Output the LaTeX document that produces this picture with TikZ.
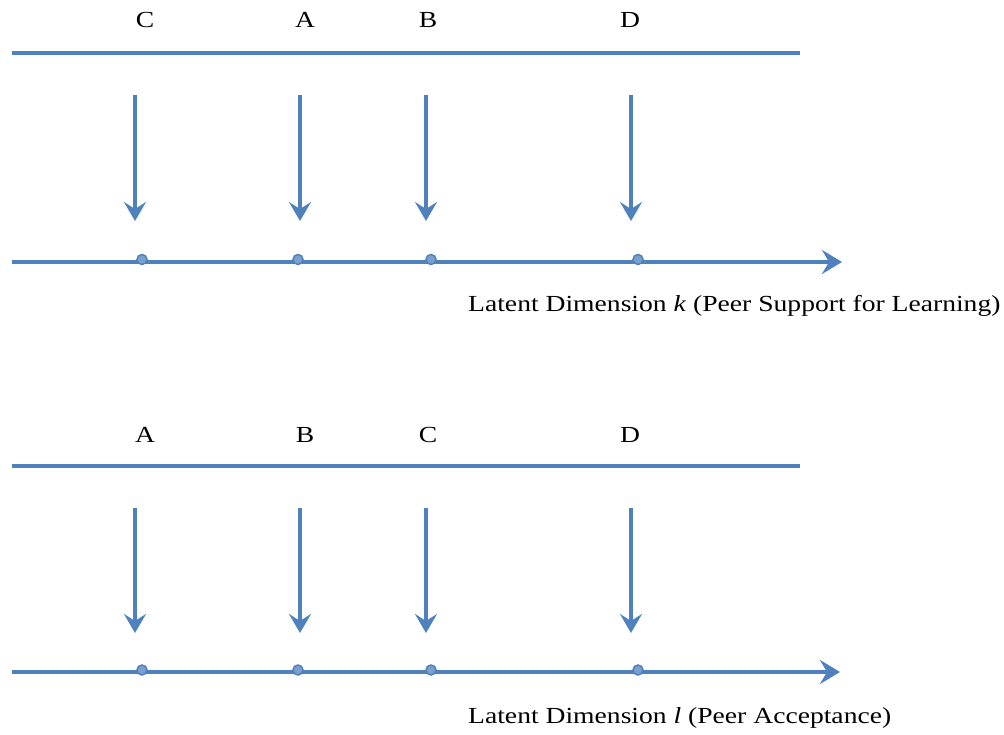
\documentclass[tikz,border=0pt]{standalone}
\usepackage{fontspec}
\setmainfont{Liberation Serif}
\usetikzlibrary{arrows.meta}
\definecolor{lineblue}{HTML}{4F81BD}
\newcommand{\wide}[1]{\scalebox{1.2}[1]{#1}}
\tikzset{
  bar/.style={draw=lineblue, line width=4.5pt},
  downarrow/.style={draw=lineblue, line width=4.7pt, -{Stealth[length=19pt,width=22pt,inset=7pt]}},
  axisline/.style={draw=lineblue, line width=4.5pt, -{Stealth[length=20pt,width=24pt,inset=7pt]}},
  dot/.style={circle, fill=lineblue!75, draw=lineblue, line width=1.5pt, inner sep=0pt, minimum size=10pt},
  lab/.style={font=\fontsize{23}{28}\selectfont, inner sep=0pt},
  axlab/.style={font=\fontsize{23}{28}\selectfont, inner sep=0pt, anchor=west}
}
\begin{document}
\begin{tikzpicture}[x=1pt,y=-1pt]
\useasboundingbox (0,0) rectangle (1004,735);
% ---------- top panel ----------
\node[lab] (t1) at (145,20) {\wide{C}};
\node[lab] (t2) at (305,20) {\wide{A}};
\node[lab] (t3) at (428,20) {\wide{B}};
\node[lab] (t4) at (630,20) {\wide{D}};
\coordinate (tbL) at (12,53);
\coordinate (tbR) at (800,53);
\draw[bar] (tbL) -- (tbR);
\coordinate (ta1s) at (135,95); \coordinate (ta1e) at (135,221);
\coordinate (ta2s) at (300,95); \coordinate (ta2e) at (300,221);
\coordinate (ta3s) at (426,95); \coordinate (ta3e) at (426,221);
\coordinate (ta4s) at (631,95); \coordinate (ta4e) at (631,221);
\draw[downarrow] (ta1s) -- (ta1e);
\draw[downarrow] (ta2s) -- (ta2e);
\draw[downarrow] (ta3s) -- (ta3e);
\draw[downarrow] (ta4s) -- (ta4e);
\coordinate (taxL) at (12,262);
\coordinate (taxR) at (842,262);
\draw[axisline] (taxL) -- (taxR);
\node[dot] (td1) at (142,259.5) {};
\node[dot] (td2) at (298,259.5) {};
\node[dot] (td3) at (431,259.5) {};
\node[dot] (td4) at (638,259.5) {};
\node[axlab] (tlab) at (468,306) {\wide{Latent Dimension \textit{k} (Peer Support for Learning)}};
% ---------- bottom panel ----------
\node[lab] (b1) at (145,435) {\wide{A}};
\node[lab] (b2) at (305,435) {\wide{B}};
\node[lab] (b3) at (428,435) {\wide{C}};
\node[lab] (b4) at (630,435) {\wide{D}};
\coordinate (bbL) at (12,466);
\coordinate (bbR) at (800,466);
\draw[bar] (bbL) -- (bbR);
\coordinate (ba1s) at (135,508); \coordinate (ba1e) at (135,633);
\coordinate (ba2s) at (300,508); \coordinate (ba2e) at (300,633);
\coordinate (ba3s) at (426,508); \coordinate (ba3e) at (426,633);
\coordinate (ba4s) at (631,508); \coordinate (ba4e) at (631,633);
\draw[downarrow] (ba1s) -- (ba1e);
\draw[downarrow] (ba2s) -- (ba2e);
\draw[downarrow] (ba3s) -- (ba3e);
\draw[downarrow] (ba4s) -- (ba4e);
\coordinate (baxL) at (12,672);
\coordinate (baxR) at (840,672);
\draw[axisline] (baxL) -- (baxR);
\node[dot] (bd1) at (142,670) {};
\node[dot] (bd2) at (298,670) {};
\node[dot] (bd3) at (431,670) {};
\node[dot] (bd4) at (638,670) {};
\node[axlab] (blab) at (468,718) {\wide{Latent Dimension \textit{l} (Peer Acceptance)}};
\end{tikzpicture}
\end{document}
